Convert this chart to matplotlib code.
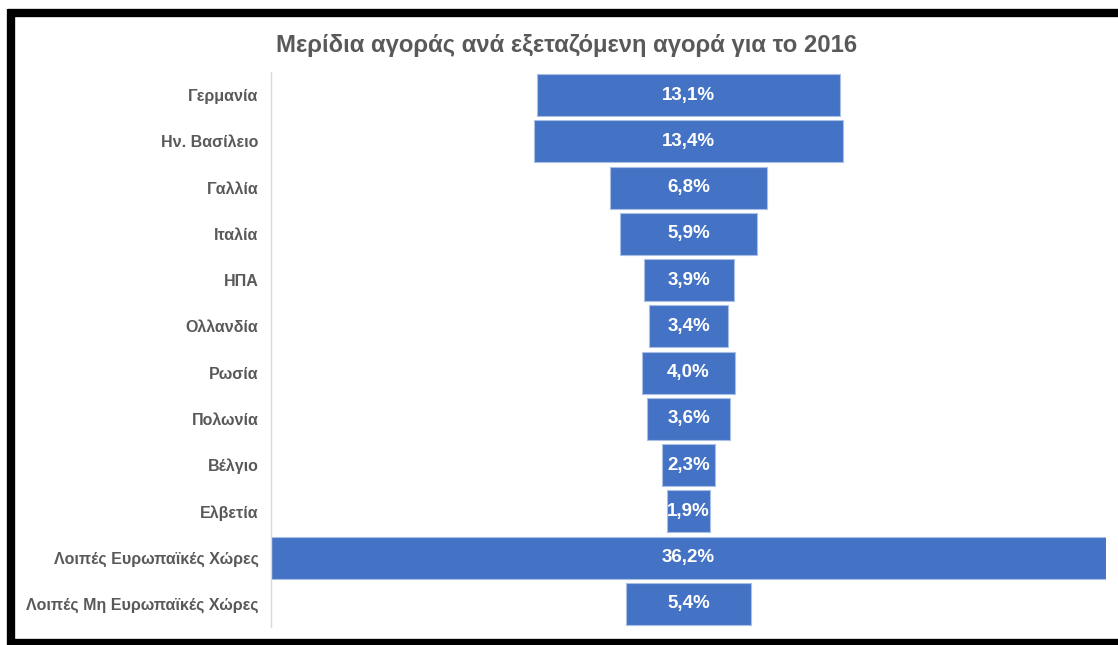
import matplotlib.pyplot as plt
from matplotlib.lines import Line2D

# Market share per examined market, 2016
countries = ['Γερμανία', 'Ην. Βασίλειο', 'Γαλλία', 'Ιταλία', 'ΗΠΑ', 'Ολλανδία',
             'Ρωσία', 'Πολωνία', 'Βέλγιο', 'Ελβετία',
             'Λοιπές Ευρωπαϊκές Χώρες', 'Λοιπές Μη Ευρωπαϊκές Χώρες']
shares = [13.1, 13.4, 6.8, 5.9, 3.9, 3.4, 4.0, 3.6, 2.3, 1.9, 36.2, 5.4]

plt.rcParams['font.family'] = ['Liberation Sans', 'DejaVu Sans']

grey = '#595959'
blue = '#4472C4'

fig = plt.figure(figsize=(11.18, 6.45), dpi=100)
ax = fig.add_axes([0.2424, 0.0279, 0.7469, 0.8605])

# funnel: every bar centred on zero
y = list(range(len(countries)))
lefts = [-s / 2 for s in shares]
ax.barh(y, shares, left=lefts, height=0.91, color=blue,
        edgecolor='#A9BFE6', linewidth=0.8)

for yi, s in zip(y, shares):
    ax.text(0, yi, f'{s:.1f}'.replace('.', ',') + '%', ha='center', va='center',
            color='white', fontsize=13.5, fontweight='bold')

half = max(shares) / 2
ax.set_xlim(-half, half)
ax.set_ylim(len(countries) - 0.5, -0.5)
ax.set_xticks([])
ax.set_yticks(y)
ax.set_yticklabels(countries, fontsize=11.5, fontweight='bold', color=grey)
ax.tick_params(axis='y', length=0, pad=9)
for side in ['top', 'right', 'bottom']:
    ax.spines[side].set_visible(False)
ax.spines['left'].set_color('#D9D9D9')
ax.spines['left'].set_linewidth(1)

fig.text(0.507, 0.930, 'Μερίδια αγοράς ανά εξεταζόμενη αγορά για το 2016',
         ha='center', va='center', fontsize=17.2, fontweight='bold', color=grey)

# black frame on left, top and bottom
H = 645
W = 1118
frame = dict(color='black', linewidth=6, solid_capstyle='butt')
fig.add_artist(Line2D([11 / W, 11 / W], [0, 1 - 9 / H], transform=fig.transFigure, **frame))
fig.add_artist(Line2D([8 / W, 1], [1 - 13 / H, 1 - 13 / H], transform=fig.transFigure, **frame))
fig.add_artist(Line2D([8 / W, 1], [2 / H, 2 / H], transform=fig.transFigure, **frame))

fig.savefig('out.png', dpi=100)
